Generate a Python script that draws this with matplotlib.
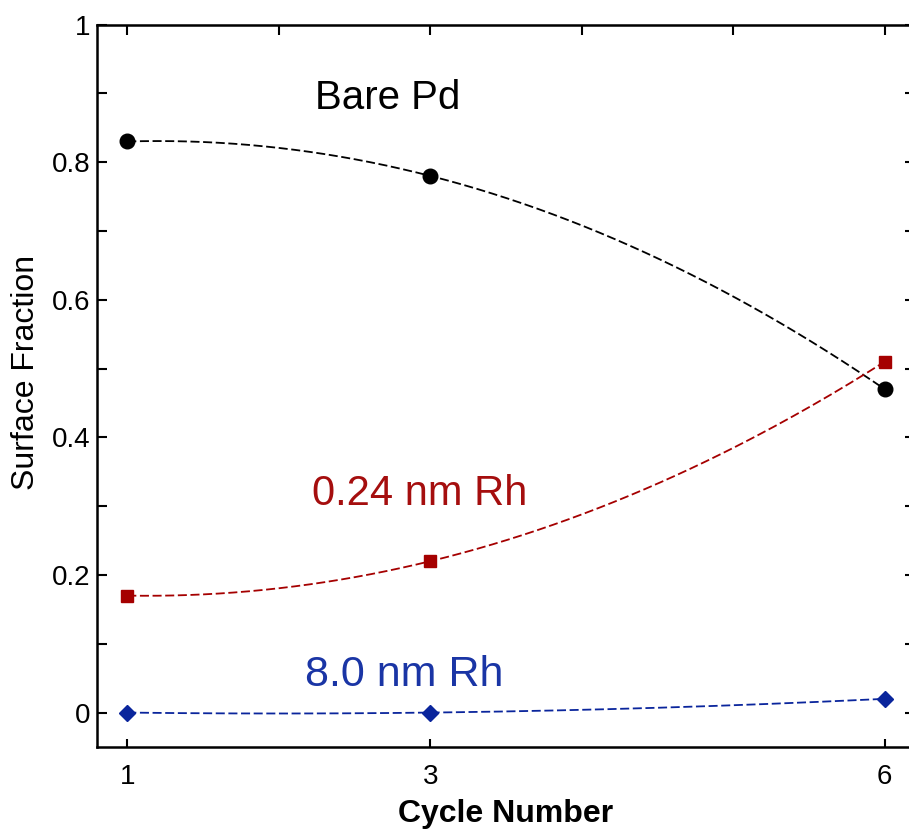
import numpy as np
import matplotlib
matplotlib.use("Agg")
import matplotlib.pyplot as plt
from matplotlib.ticker import MultipleLocator, FixedLocator, FuncFormatter

plt.rcParams['font.family'] = ['Liberation Sans', 'DejaVu Sans']

# data
cycles = [1, 3, 6]
bare_pd = [0.83, 0.78, 0.47]
rh_024 = [0.17, 0.22, 0.51]
rh_80 = [0.0, 0.0, 0.02]

series_names = ["Bare Pd", "0.24 nm Rh", "8.0 nm Rh"]
series_colors = ["black", "#A50000", "#0A259C"]
series_markers = ["o", "s", "D"]
series_msize = [10.5, 9, 8.5]

fig = plt.figure(figsize=(9.09, 8.31), dpi=100)
ax = fig.add_axes([0.1067, 0.1011, 0.8999, 0.8694])

xs = np.linspace(min(cycles), max(cycles), 200)
for vals, col, mk, ms in zip([bare_pd, rh_024, rh_80], series_colors, series_markers, series_msize):
    # smooth dashed guide curve through the three points
    coef = np.polyfit(cycles, vals, 2)
    ax.plot(xs, np.polyval(coef, xs), color=col, lw=1.3, dashes=(5, 2))
    ax.plot(cycles, vals, linestyle="none", marker=mk, color=col, markersize=ms)

ax.text(2.24, 0.893, series_names[0], color=series_colors[0], fontsize=29, ha="left", va="center")
ax.text(2.22, 0.317, series_names[1], color="#A50E0E", fontsize=30, ha="left", va="center")
ax.text(2.17, 0.055, series_names[2], color="#1A35A5", fontsize=31, ha="left", va="center")

ax.set_xlim(0.8, 6.2)
ax.set_ylim(-0.05, 1.0)
ax.xaxis.set_major_locator(FixedLocator(cycles))
ax.yaxis.set_major_locator(MultipleLocator(0.2))
ax.yaxis.set_minor_locator(MultipleLocator(0.1))
ax.yaxis.set_major_formatter(FuncFormatter(lambda v, p: f"{v:g}"))

for sp in ax.spines.values():
    sp.set_linewidth(1.8)
ax.tick_params(which="both", direction="in", width=1.5, labelsize=20, right=True)
ax.tick_params(axis="y", which="major", length=7, pad=5)
ax.tick_params(axis="y", which="minor", length=7)
ax.tick_params(axis="x", which="major", length=6, pad=12)

top = ax.secondary_xaxis("top")
top.set_xticks([1, 2, 3, 4, 5, 6])
top.tick_params(direction="in", length=7, width=1.5, labelsize=0, labeltop=False)

ax.set_xlabel("Cycle Number", fontsize=23, fontweight="bold", labelpad=7)
ax.set_ylabel("Surface Fraction", fontsize=23)
ax.yaxis.set_label_coords(-0.068, 0.519)

fig.savefig("out.png", dpi=100)
